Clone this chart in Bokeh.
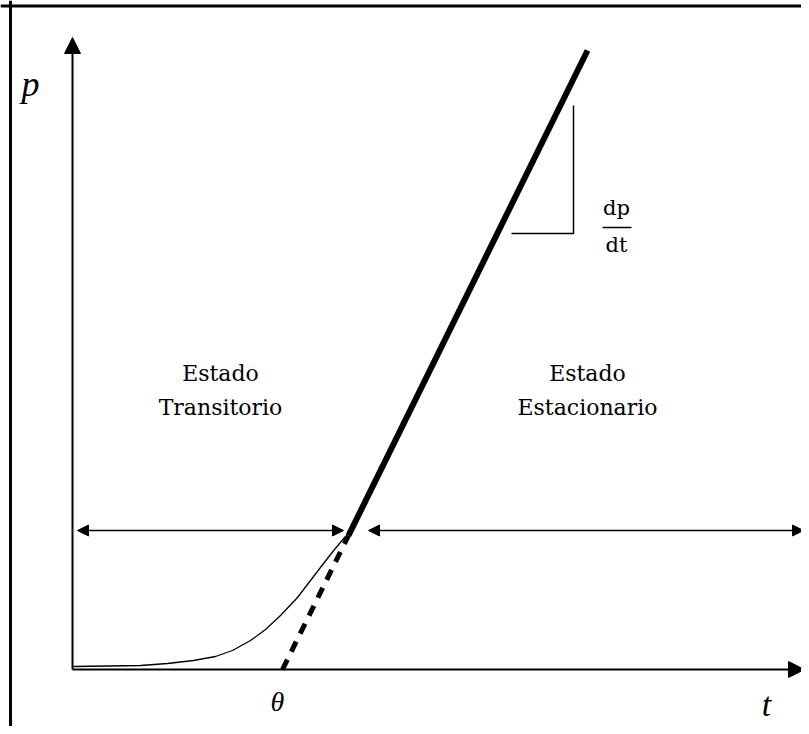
from bokeh.plotting import figure
from bokeh.models import Range1d, Arrow, NormalHead
from bokeh.core.properties import value
from bokeh.embed import file_html
from bokeh.resources import INLINE

# ---- data (schematic units: t to the right, p upward, origin at axes corner) ----
axis_t_end = 732          # end of the time axis (arrow tip)
axis_p_end = 632          # end of the pressure axis (arrow tip)

theta_t = 210             # intercept of the steady-state line with the t axis
join_t, join_p = 276, 134 # where the transient ends and steady state begins
top_t, top_p = 515, 619   # upper end of the steady-state line

curve_t = [1, 68, 95, 121, 143, 160, 178, 193, 208, 225, 238, 251, 262, 273]
curve_p = [3, 4, 6, 9, 13, 19, 29, 40, 54, 72, 89, 106, 120, 133]

region_p = 139            # height of the two region arrows
left_region = [5, 271]
right_region = [296, 731]

slope_tri_t = [439, 501, 501]
slope_tri_p = [436, 436, 564]

label_left = ["Estado", "Transitorio"]
label_right = ["Estado", "Estacionario"]
label_left_t = 148
label_right_t = 515
label_p = [296, 262]

frac_t = [530, 559]
frac_p = 442

# ---- figure in a frame of reference-pixel units ----
W, H = 801, 726
p = figure(width=W, height=H, output_backend="svg", toolbar_location=None,
           x_range=Range1d(-72, 729), y_range=Range1d(-57, 669),
           min_border=0, x_axis_type=None, y_axis_type=None)
p.grid.visible = False
p.outline_line_color = None
p.background_fill_color = "white"
p.border_fill_color = "white"

# picture border (left and top only)
p.line([-62, -62], [-57, 669], line_color="black", line_width=3)
p.line([-72, 729], [663.5, 663.5], line_color="black", line_width=3)

# axes with arrow heads
p.add_layout(Arrow(end=NormalHead(size=16, fill_color="black", line_color="black"),
                   x_start=0, y_start=0, x_end=0, y_end=axis_p_end,
                   line_color="black", line_width=2))
p.add_layout(Arrow(end=NormalHead(size=16, fill_color="black", line_color="black"),
                   x_start=0, y_start=0, x_end=axis_t_end, y_end=0,
                   line_color="black", line_width=2))

# transient curve
p.line(curve_t, curve_p, line_color="black", line_width=1.3)

# steady line: dashed extrapolation + thick solid part
p.line([theta_t, join_t], [0, join_p], line_color="black", line_width=5,
       line_dash="11 9")
p.line([join_t, top_t], [join_p, top_p], line_color="black", line_width=6)

# slope triangle
p.line(slope_tri_t, slope_tri_p, line_color="black", line_width=1.5)

# region double arrows
for a, b in (left_region, right_region):
    p.add_layout(Arrow(start=NormalHead(size=11, fill_color="black", line_color="black"),
                       end=NormalHead(size=11, fill_color="black", line_color="black"),
                       x_start=a, y_start=region_p, x_end=b, y_end=region_p,
                       line_color="black", line_width=1.5))

serif = value("DejaVu Serif")
p.text(x=[label_left_t] * 2, y=label_p, text=label_left, text_font=serif,
       text_font_size=value("22px"), text_align="center",
       text_baseline="alphabetic", text_color="black")
p.text(x=[label_right_t] * 2, y=label_p, text=label_right, text_font=serif,
       text_font_size=value("22px"), text_align="center",
       text_baseline="alphabetic", text_color="black")

# dp/dt
p.text(x=[544, 544], y=[462, 425], text=["dp", "dt"], text_font=serif,
       text_font_size=value("21px"), text_align="center",
       text_baseline="alphabetic", text_color="black")
p.line(frac_t, [frac_p, frac_p], line_color="black", line_width=1.5)

# italic symbols
ital = value("Liberation Serif")
p.text(x=[-42], y=[586], text=["p"], text_font=ital, text_font_style="italic",
       text_font_size=value("36px"), text_align="center",
       text_baseline="alphabetic", text_color="black")
p.text(x=[694], y=[-35], text=["t"], text_font=ital, text_font_style="italic",
       text_font_size=value("34px"), text_align="center",
       text_baseline="alphabetic", text_color="black")
p.text(x=[205], y=[-32], text=["θ"], text_font=ital, text_font_style="italic",
       text_font_size=value("28px"), text_align="center",
       text_baseline="alphabetic", text_color="black")

open("out.html", "w").write(file_html(p, INLINE))
